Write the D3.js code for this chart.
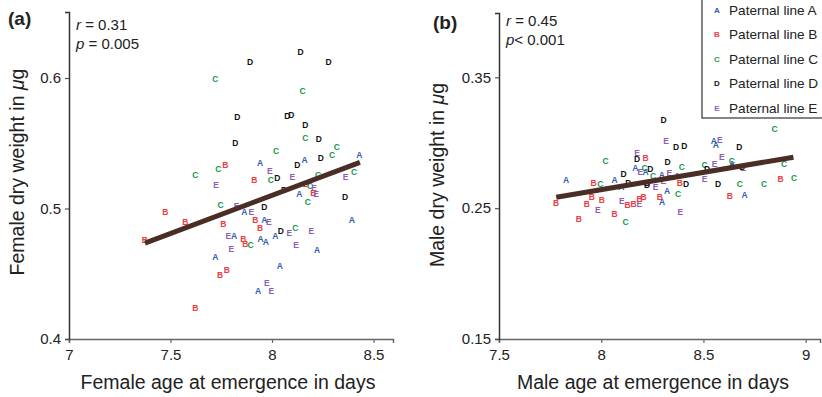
<!DOCTYPE html>
<html><head><meta charset="utf-8">
<script src="https://cdn.jsdelivr.net/npm/d3@7"></script>
<style>body{margin:0;background:#fff}svg{display:block}text{font-family:"Liberation Sans",Arial,Helvetica,sans-serif}</style>
</head><body><svg id="c" width="822" height="397"></svg>
<script>
// ---- data ----
const lines = ["A","B","C","D","E"];
const lineColors = ["#2f5db3","#ee3b42","#17994a","#111111","#8b5fb5"];
const legendLabels = ["Paternal line A","Paternal line B","Paternal line C","Paternal line D","Paternal line E"];

const femaleLine = ["D","D","D","C","C","D","D","D","D","C","D","D","C","C","C","D","A","A","A","B","D","C","E","C","E","C","E","C","B","C","D","E","B","C","E","B","E","A","C","D","D","C","E","D","A","E","B","B","B","B","A","E","B","A","D","C","E","E","E","A","A","B","A","A","B","C","E","B","E","A","A","A","B","B","E","A","E","B"];
const femaleAge = [8.141,7.892,8.279,7.721,8.151,7.829,8.075,8.095,8.164,8.164,8.230,7.819,8.319,8.020,8.296,8.240,8.430,7.941,8.161,7.770,8.125,7.736,7.989,7.622,8.100,8.227,8.363,8.404,7.913,7.994,8.026,7.724,8.167,8.187,8.207,8.204,8.217,8.135,8.177,8.360,8.059,7.747,7.826,7.962,7.864,7.898,7.474,7.573,7.760,7.918,7.962,7.984,7.941,8.393,8.043,8.115,8.085,8.194,7.785,7.813,8.016,7.859,7.944,7.969,7.869,7.895,8.118,7.373,7.800,8.222,7.721,8.038,7.778,7.744,7.974,7.931,7.997,7.622];
const femaleWeight = [0.620,0.612,0.612,0.599,0.590,0.570,0.571,0.572,0.564,0.554,0.553,0.550,0.547,0.544,0.541,0.539,0.541,0.535,0.537,0.533,0.533,0.530,0.529,0.526,0.524,0.526,0.524,0.528,0.522,0.522,0.523,0.518,0.519,0.517,0.516,0.512,0.511,0.511,0.505,0.509,0.514,0.503,0.502,0.501,0.497,0.497,0.497,0.490,0.488,0.491,0.491,0.490,0.485,0.491,0.483,0.485,0.481,0.483,0.479,0.479,0.479,0.477,0.477,0.474,0.473,0.472,0.472,0.476,0.469,0.468,0.463,0.456,0.453,0.449,0.443,0.437,0.437,0.424];

const maleLine = ["D","C","A","E","A","E","D","D","D","E","D","B","E","C","D","C","C","C","E","C","A","C","D","E","A","C","E","A","D","E","D","D","A","D","A","A","B","C","D","D","E","E","B","D","E","D","C","C","B","C","A","C","B","B","B","B","E","B","B","E","B","B","B","A","B","A","E","B","B","C","E","A","A"];
const maleAge = [8.305,8.848,8.551,8.580,8.560,8.317,8.366,8.407,8.675,8.175,8.175,8.217,8.590,8.021,8.325,8.639,8.894,8.505,8.554,8.394,8.167,8.212,8.240,8.191,8.217,8.253,8.333,8.296,8.518,8.695,8.690,8.109,8.065,8.132,8.098,7.828,7.962,7.995,8.224,8.224,8.266,8.304,8.384,8.415,8.506,8.572,8.678,8.796,8.877,8.943,8.322,8.376,7.954,8.003,7.930,7.779,8.101,8.129,8.158,8.186,8.188,8.207,8.286,8.297,8.629,8.701,7.984,8.065,7.891,8.119,8.387,8.640,8.371];
const maleWeight = [0.3177,0.3103,0.3014,0.3019,0.2986,0.3011,0.2968,0.2973,0.2966,0.2922,0.2879,0.2884,0.2892,0.2861,0.2853,0.2859,0.2841,0.2828,0.2836,0.2815,0.2808,0.2808,0.2800,0.2777,0.2773,0.2747,0.2765,0.2752,0.2803,0.2810,0.2815,0.2760,0.2714,0.2693,0.2663,0.2714,0.2696,0.2688,0.2676,0.2693,0.2663,0.2706,0.2696,0.2688,0.2721,0.2681,0.2688,0.2688,0.2721,0.2727,0.2632,0.2612,0.2586,0.2561,0.2531,0.2536,0.2556,0.2525,0.2531,0.2531,0.2569,0.2584,0.2582,0.2544,0.2592,0.2597,0.2485,0.2452,0.2418,0.2391,0.2467,0.2840,0.2747];

const femaleFitX = [7.374, 8.433], femaleFitY = [0.4735, 0.5354];
const maleFitX = [7.780, 8.940], maleFitY = [0.2584, 0.2890];

const femaleXTicks = [7, 7.5, 8, 8.5], femaleYTicks = [0.4, 0.5, 0.6];
const maleXTicks = [7.5, 8, 8.5, 9], maleYTicks = [0.15, 0.25, 0.35];

// ---- drawing ----
const svg = d3.select("#c");
const color = d3.scaleOrdinal().domain(lines).range(lineColors);

function panel(o){
  const g = svg.append("g");
  const x = d3.scaleLinear().domain(o.xDom).range(o.xRange);
  const y = d3.scaleLinear().domain(o.yDom).range(o.yRange);
  const ax = g.append("g").attr("transform",`translate(0,${o.yRange[0]})`)
    .call(d3.axisBottom(x).tickValues(o.xTicks).tickFormat(d3.format("")).tickSizeOuter(0).tickSize(4).tickPadding(6));
  ax.select(".domain").attr("stroke","#666").attr("stroke-width",1.5);
  ax.selectAll(".tick line").attr("stroke","#666").attr("stroke-width",1.2);
  ax.selectAll("text").attr("font-size",15).attr("fill","#222").attr("font-family","Liberation Sans, Arial, sans-serif");
  const ay = g.append("g").attr("transform",`translate(${o.xRange[0]},0)`)
    .call(d3.axisLeft(y).tickValues(o.yTicks).tickFormat(d3.format("")).tickSizeOuter(0).tickSize(4).tickPadding(4));
  ay.select(".domain").attr("stroke","#333").attr("stroke-width",1.5);
  ay.selectAll(".tick line").attr("stroke","#555").attr("stroke-width",1.2);
  ay.selectAll("text").attr("font-size",15).attr("fill","#222").attr("font-family","Liberation Sans, Arial, sans-serif");
  g.append("g").selectAll("text").data(o.line.map((l,i)=>({l, x:o.xs[i], y:o.ys[i]}))).join("text")
    .attr("x",d=>x(d.x)).attr("y",d=>y(d.y)).attr("dy","0.35em").attr("text-anchor","middle")
    .attr("font-size",8.5).attr("font-weight","bold").attr("fill",d=>color(d.l)).text(d=>d.l);
  g.append("path").datum(o.fitX.map((v,i)=>[v,o.fitY[i]]))
    .attr("d", d3.line().x(d=>x(d[0])).y(d=>y(d[1])))
    .attr("stroke","#4a2e25").attr("stroke-width",5).attr("fill","none");
  g.append("text").attr("x",(o.xRange[0]+o.xTitleCenter)).attr("y",389).attr("text-anchor","middle")
    .attr("font-size",19.5).attr("fill","#222").text(o.xTitle);
  const yt = g.append("text").attr("transform",`translate(${o.yTitleX},${o.yTitleY}) rotate(-90)`).attr("text-anchor","middle")
    .attr("font-size",19.5).attr("fill","#222");
  yt.append("tspan").text(o.yTitle);
  yt.append("tspan").attr("font-style","italic").text("μ");
  yt.append("tspan").text("g");
  g.append("text").attr("x",o.tagX).attr("y",o.tagY).attr("font-size",19).attr("font-weight","bold").attr("fill","#222").text(o.tag);
  const s1 = g.append("text").attr("x",o.xRange[0]+7).attr("y",o.statY).attr("font-size",15).attr("fill","#222");
  s1.append("tspan").attr("font-style","italic").text("r");
  s1.append("tspan").text(" = " + o.r);
  const s2 = g.append("text").attr("x",o.xRange[0]+7).attr("y",o.statY+19).attr("font-size",15).attr("fill","#222");
  s2.append("tspan").attr("font-style","italic").text("p");
  s2.append("tspan").text(o.p);
}

panel({xDom:[7,8.596], xRange:[69,393], yDom:[0.4,0.6506], yRange:[339,12],
  xTicks:femaleXTicks, yTicks:femaleYTicks, line:femaleLine, xs:femaleAge, ys:femaleWeight,
  fitX:femaleFitX, fitY:femaleFitY, xTitle:"Female age at emergence in days", xTitleCenter:159,
  yTitle:"Female dry weight in ", yTitleX:24, yTitleY:172, tag:"(a)", tagX:8, tagY:25,
  statY:30, r:"0.31", p:" = 0.005"});
panel({xDom:[7.5,9.07], xRange:[499,820], yDom:[0.15,0.3992], yRange:[339,13],
  xTicks:maleXTicks, yTicks:maleYTicks, line:maleLine, xs:maleAge, ys:maleWeight,
  fitX:maleFitX, fitY:maleFitY, xTitle:"Male age at emergence in days", xTitleCenter:154,
  yTitle:"Male dry weight in ", yTitleX:444, yTitleY:175, tag:"(b)", tagX:433, tagY:29,
  statY:26, r:"0.45", p:"< 0.001"});

// legend
const lg = svg.append("g");
lg.append("rect").attr("x",702).attr("y",-2).attr("width",124).attr("height",120)
  .attr("fill","#fff").attr("stroke","#333").attr("stroke-width",1.2);
lines.forEach((l,i)=>{
  const yy = 10 + i*24.5;
  lg.append("text").attr("x",717).attr("y",yy).attr("dy","0.35em").attr("text-anchor","middle")
    .attr("font-size",8).attr("font-weight","bold").attr("fill",color(l)).text(l);
  lg.append("text").attr("x",729).attr("y",yy).attr("dy","0.35em").attr("font-size",13.6).attr("fill","#222").text(legendLabels[i]);
});
</script></body></html>
